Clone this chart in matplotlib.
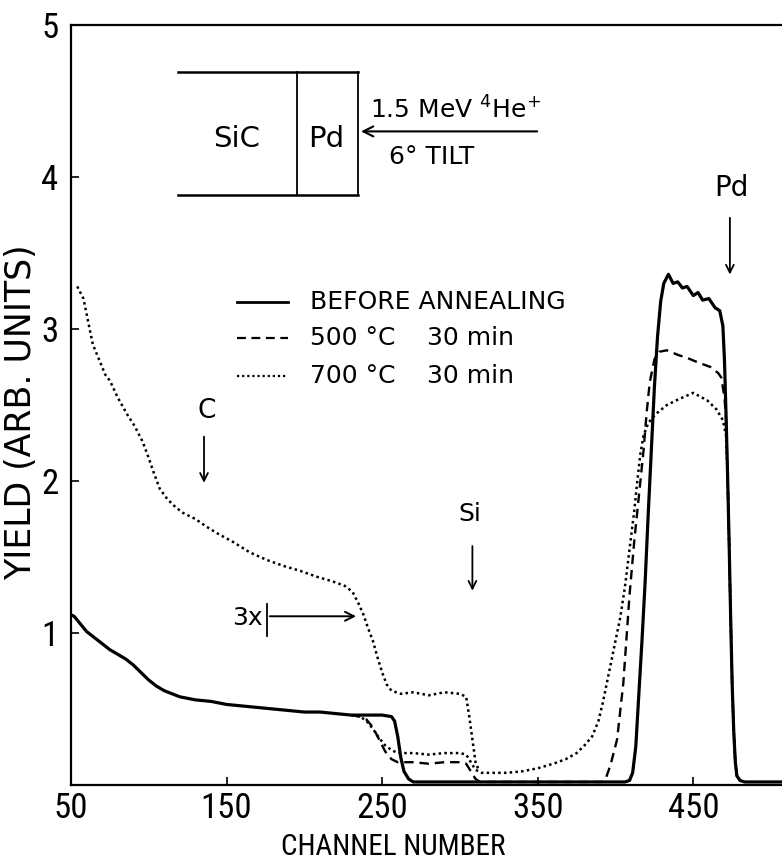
import matplotlib
matplotlib.use('Agg')
import matplotlib.pyplot as plt
from matplotlib import font_manager as fm

# ---------------- fonts ----------------
names = {f.name for f in fm.fontManager.ttflist}
NUMFONT = 'DejaVu Sans'
NARROW = False
for cand in ['Roboto Condensed', 'Liberation Sans Narrow', 'Open Sans Condensed']:
    if cand in names:
        NUMFONT = cand
        NARROW = True
        break
k = 1.0 if NARROW else 0.8
TXT = 'DejaVu Sans'
plt.rcParams['font.family'] = [TXT]
plt.rcParams['mathtext.fontset'] = 'dejavusans'
plt.rcParams['mathtext.default'] = 'regular'

# ---------------- data ----------------
before_ch = [50, 52, 56, 60, 65, 70, 75, 80, 85, 90, 95, 100, 105, 110, 115, 120,
             130, 140, 150, 160, 170, 180, 190, 200, 210, 220, 230, 240, 250, 256,
             258, 260, 262, 264, 267, 270, 300, 350, 400, 406, 409, 411, 413, 415,
             417, 419, 421, 423, 425, 427, 429, 431, 434, 437, 440, 443, 446, 450,
             453, 456, 460, 464, 467, 469, 470, 471, 472, 473, 474, 475, 476, 477,
             478, 480, 483, 507]
before_y = [1.12, 1.11, 1.06, 1.01, 0.97, 0.93, 0.89, 0.86, 0.83, 0.79, 0.74, 0.69,
            0.65, 0.62, 0.60, 0.58, 0.56, 0.55, 0.53, 0.52, 0.51, 0.50, 0.49, 0.48,
            0.48, 0.47, 0.46, 0.46, 0.46, 0.45, 0.42, 0.32, 0.18, 0.09, 0.04, 0.02,
            0.02, 0.02, 0.02, 0.02, 0.03, 0.08, 0.25, 0.60, 0.95, 1.33, 1.78, 2.20,
            2.62, 2.95, 3.18, 3.30, 3.36, 3.30, 3.31, 3.27, 3.28, 3.22, 3.24, 3.19,
            3.20, 3.14, 3.12, 3.02, 2.80, 2.45, 2.05, 1.60, 1.10, 0.65, 0.35, 0.15,
            0.06, 0.03, 0.02, 0.02]

a500_ch = [230, 236, 240, 244, 248, 252, 256, 260, 270, 280, 290, 300, 304, 307,
           310, 313, 350, 392, 394, 397, 401, 405, 409, 412, 415, 418, 420, 422,
           425, 428, 433, 440, 446, 453, 461, 466, 468, 470, 471, 472, 473, 474,
           475, 476, 477, 478, 480]
a500_y = [0.46, 0.45, 0.43, 0.38, 0.30, 0.22, 0.17, 0.15, 0.15, 0.14, 0.15, 0.15,
          0.14, 0.09, 0.04, 0.02, 0.02, 0.02, 0.05, 0.14, 0.30, 0.67, 1.25, 1.60,
          1.90, 2.20, 2.45, 2.65, 2.80, 2.85, 2.86, 2.83, 2.81, 2.78, 2.75, 2.71,
          2.68, 2.55, 2.42, 2.05, 1.60, 1.10, 0.65, 0.35, 0.15, 0.06, 0.03]

a700_ch = [230, 236, 240, 244, 248, 252, 256, 260, 270, 280, 290, 300, 304, 307,
           310, 314, 320, 330, 340, 350, 360, 368, 375, 380, 385, 389, 392, 395,
           399, 403, 406, 409, 412, 414, 416, 418, 421, 424, 427, 433, 441, 450,
           459, 465, 469, 471, 472, 473, 474, 475, 476, 477, 478, 480]
a700_y = [0.46, 0.45, 0.42, 0.37, 0.31, 0.26, 0.23, 0.21, 0.21, 0.20, 0.21, 0.21,
          0.20, 0.15, 0.10, 0.08, 0.08, 0.08, 0.09, 0.11, 0.14, 0.17, 0.21, 0.26,
          0.32, 0.42, 0.55, 0.70, 0.90, 1.10, 1.30, 1.55, 1.80, 2.00, 2.18, 2.30,
          2.38, 2.42, 2.45, 2.50, 2.54, 2.58, 2.53, 2.47, 2.40, 2.30, 2.05, 1.60,
          1.10, 0.65, 0.35, 0.15, 0.06, 0.03]

a700x3_ch = [54, 58, 61, 64, 68, 72, 75, 80, 86, 91, 96, 100, 103, 107, 112, 117,
             122, 130, 137, 145, 154, 165, 176, 187, 197, 208, 218, 226, 231, 235,
             238, 241, 244, 247, 250, 253, 256, 262, 270, 280, 290, 300, 304, 306,
             308, 310, 312]
a700x3_y = [3.28, 3.20, 3.05, 2.90, 2.80, 2.70, 2.66, 2.55, 2.44, 2.36, 2.26, 2.15,
            2.06, 1.95, 1.88, 1.83, 1.79, 1.75, 1.70, 1.65, 1.60, 1.53, 1.48, 1.44,
            1.41, 1.37, 1.34, 1.31, 1.27, 1.19, 1.12, 1.03, 0.95, 0.84, 0.74, 0.66,
            0.62, 0.60, 0.61, 0.59, 0.61, 0.60, 0.58, 0.45, 0.30, 0.15, 0.10]

x_ticks = [50, 150, 250, 350, 450]
y_ticks = [1, 2, 3, 4, 5]
legend_labels = ['BEFORE ANNEALING', '500 °C', '700 °C']
legend_time = '30 min'

# ---------------- figure ----------------
fig = plt.figure(figsize=(7.82, 8.61), dpi=100)
ax = fig.add_axes([71 / 782, 76 / 861, 1 - 71 / 782, 760 / 861])
ax.set_xlim(50, 507)
ax.set_ylim(0, 5)

DOT = (0, (1, 1.3))
DASH = (0, (4, 2.5))

ax.plot(before_ch, before_y, color='black', lw=2.3, ls='-', solid_joinstyle='round')
ax.plot(a500_ch, a500_y, color='black', lw=1.7, ls=DASH)
ax.plot(a700_ch, a700_y, color='black', lw=1.8, ls=DOT)
ax.plot(a700x3_ch, a700x3_y, color='black', lw=1.8, ls=DOT)

for s in ['left', 'bottom', 'top']:
    ax.spines[s].set_linewidth(1.6)
ax.spines['right'].set_visible(False)

ax.set_xticks(x_ticks)
ax.set_xticklabels([str(v) for v in x_ticks], family=NUMFONT)
ax.set_yticks(y_ticks)
ax.set_yticklabels([str(v) for v in y_ticks], family=NUMFONT)
ax.tick_params(direction='in', length=6, width=1.2, labelsize=25 * k, pad=5)
ax.tick_params(axis='y', pad=9)

ax.set_xlabel('CHANNEL NUMBER', fontsize=21 * k, family=NUMFONT, x=0.453, labelpad=6)
ax.set_ylabel('YIELD (ARB. UNITS)', fontsize=25, labelpad=2, y=0.49)

# legend (manual)
leg_x0, leg_x1, leg_tx, leg_tt = 157, 189.5, 203.6, 278.6
leg_rows = [3.18, 2.94, 2.69]
styles = [dict(ls='-', lw=2.0), dict(ls=DASH, lw=1.6), dict(ls=DOT, lw=1.6)]
for lab, yy, st in zip(legend_labels, leg_rows, styles):
    ax.plot([leg_x0, leg_x1], [yy, yy], color='black', **st)
    ax.text(leg_tx, yy, lab, fontsize=18, va='center', ha='left')
for yy in leg_rows[1:]:
    ax.text(leg_tt, yy, legend_time, fontsize=18, va='center', ha='left')

# sample sketch
bx0, bxm, bx1, by0, by1 = 118.8, 195, 234.6, 3.88, 4.69
ax.plot([bx0, bx1], [by1, by1], color='black', lw=1.8)
ax.plot([bx0, bx1], [by0, by0], color='black', lw=1.8)
ax.plot([bxm, bxm], [by0, by1], color='black', lw=1.3)
ax.plot([bx1, bx1], [by0, by1], color='black', lw=1.3)
ax.text(156.5, 4.25, 'SiC', fontsize=21, ha='center', va='center')
ax.text(214, 4.25, 'Pd', fontsize=21, ha='center', va='center')
ax.annotate('', xy=(bx1, 4.30), xytext=(351.4, 4.30),
            arrowprops=dict(arrowstyle='->', lw=1.5, color='black', mutation_scale=18))
ax.text(297, 4.44, '1.5 MeV $^{4}$He$^{+}$', fontsize=18, ha='center', va='center')
ax.text(282, 4.13, '6° TILT', fontsize=18, ha='center', va='center')

# element markers
ax.text(137, 2.46, 'C', fontsize=19, ha='center', va='center')
ax.annotate('', xy=(135.5, 1.97), xytext=(135.5, 2.31),
            arrowprops=dict(arrowstyle='->', lw=1.3, color='black', mutation_scale=14))
ax.text(306.5, 1.78, 'Si', fontsize=18, ha='center', va='center')
ax.annotate('', xy=(308, 1.26), xytext=(308, 1.59),
            arrowprops=dict(arrowstyle='->', lw=1.3, color='black', mutation_scale=14))
ax.text(474.6, 3.93, 'Pd', fontsize=20, ha='center', va='center')
ax.annotate('', xy=(473.5, 3.34), xytext=(473.5, 3.75),
            arrowprops=dict(arrowstyle='->', lw=1.3, color='black', mutation_scale=14))

# 3x marker
ax.text(173, 1.10, '3x', fontsize=18, ha='right', va='center')
ax.plot([176, 176], [0.98, 1.19], color='black', lw=1.3)
ax.annotate('', xy=(235, 1.11), xytext=(176, 1.11),
            arrowprops=dict(arrowstyle='->', lw=1.4, color='black', mutation_scale=16))

fig.savefig('out.png', dpi=100)
